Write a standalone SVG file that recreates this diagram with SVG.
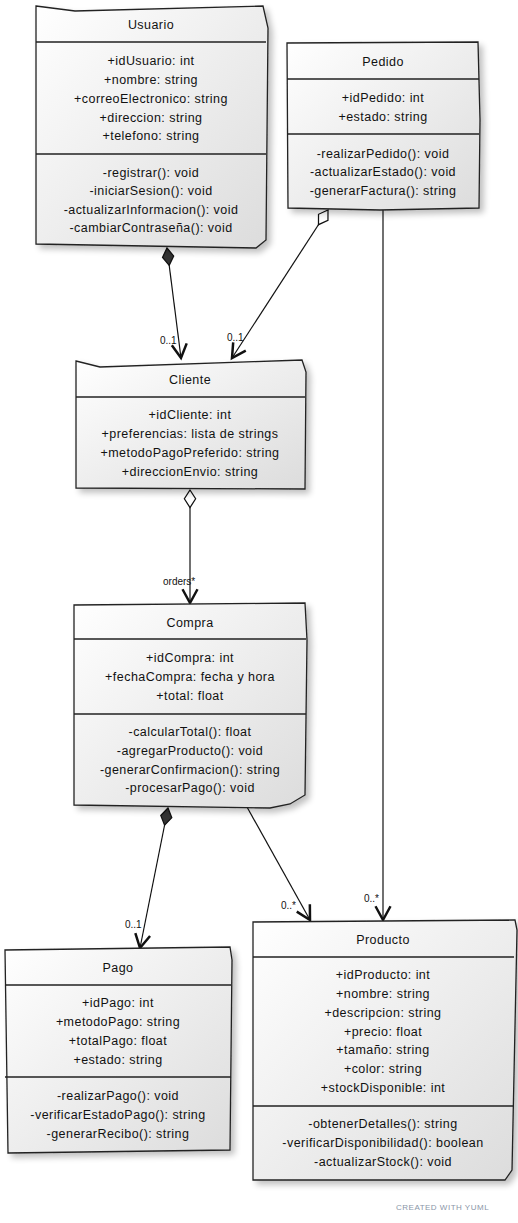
<svg xmlns="http://www.w3.org/2000/svg" width="518" height="1223" viewBox="0 0 518 1223">
<style>
.box{fill:url(#g);stroke:#222;stroke-width:1.3;filter:url(#sh)}
.div{stroke:#222;stroke-width:1.3;fill:none}
.t{font-family:"Liberation Sans",Arial,sans-serif;font-size:12.5px;letter-spacing:0.45px;fill:#111;text-anchor:middle}
.lbl{font-family:"Liberation Sans",Arial,sans-serif;font-size:10px;fill:#111}
.ln{stroke:#111;stroke-width:1.2;fill:none}
</style>
<defs>
<linearGradient id="g" x1="0" y1="0" x2="1" y2="1">
<stop offset="0" stop-color="#ffffff"/>
<stop offset="1" stop-color="#dcdcdc"/>
</linearGradient>
<filter id="sh" x="-10%" y="-10%" width="130%" height="130%">
<feGaussianBlur in="SourceAlpha" stdDeviation="3"/>
<feOffset dx="4" dy="4" result="b"/>
<feComponentTransfer><feFuncA type="linear" slope="0.25"/></feComponentTransfer>
<feMerge><feMergeNode/><feMergeNode in="SourceGraphic"/></feMerge>
</filter>
<marker id="arr" markerUnits="userSpaceOnUse" markerWidth="20" markerHeight="20" refX="0" refY="0" viewBox="-12 -8 14 16" orient="auto">
<path d="M-11,-6 L0,0 L-11,6" fill="none" stroke="#111" stroke-width="2"/>
</marker>
<marker id="dfill" markerUnits="userSpaceOnUse" markerWidth="20" markerHeight="20" refX="0" refY="0" viewBox="-1 -6 16 12" orient="auto">
<path d="M0,0 L7,-4.5 L14,0 L7,4.5 Z" fill="#333" stroke="#111" stroke-width="1"/>
</marker>
<marker id="dopen" markerUnits="userSpaceOnUse" markerWidth="20" markerHeight="20" refX="0" refY="0" viewBox="-1 -6 16 12" orient="auto">
<path d="M0,0 L7,-4.5 L14,0 L7,4.5 Z" fill="#fff" stroke="#111" stroke-width="1"/>
</marker>
</defs>
<rect width="518" height="1223" fill="#fff"/>

<g id="connectors">
<path class="ln" d="M167,248 L181,358" marker-start="url(#dfill)" marker-end="url(#arr)"/>
<text class="lbl" x="160" y="344">0..1</text>
<path class="ln" d="M328,210 L232,358" marker-start="url(#dopen)" marker-end="url(#arr)"/>
<text class="lbl" x="227" y="341">0..1</text>
<path class="ln" d="M383,210 L383,920" marker-end="url(#arr)"/>
<text class="lbl" x="364" y="902">0..*</text>
<path class="ln" d="M190,490 L190,603" marker-start="url(#dopen)" marker-end="url(#arr)"/>
<text class="lbl" x="163" y="585">orders*</text>
<path class="ln" d="M168,808 L140,948" marker-start="url(#dfill)" marker-end="url(#arr)"/>
<text class="lbl" x="125" y="928">0..1</text>
<path class="ln" d="M247,807 L310,920" marker-end="url(#arr)"/>
<text class="lbl" x="281" y="909">0..*</text>
</g>

<g id="Usuario">
<path class="box" d="M36,6 L75,11 L263,6 L268,28 L266,240 L256,248 L36,244 Z"/>
<path class="div" d="M36,42 L266,42 M36,154 L266,154"/>
<text class="t" x="151" y="29">Usuario</text>
<text class="t" x="151" y="65">+idUsuario: int</text>
<text class="t" x="151" y="84">+nombre: string</text>
<text class="t" x="151" y="103">+correoElectronico: string</text>
<text class="t" x="151" y="122">+direccion: string</text>
<text class="t" x="151" y="140">+telefono: string</text>
<text class="t" x="151" y="177">-registrar(): void</text>
<text class="t" x="151" y="195">-iniciarSesion(): void</text>
<text class="t" x="151" y="214">-actualizarInformacion(): void</text>
<text class="t" x="151" y="232">-cambiarContraseña(): void</text>
</g>

<g id="Pedido">
<path class="box" d="M287,43 L478,42 L480,120 L479,208 L380,210 L288,208 Z"/>
<path class="div" d="M287,79 L479,79 M287,134 L479,134"/>
<text class="t" x="383" y="66">Pedido</text>
<text class="t" x="383" y="102">+idPedido: int</text>
<text class="t" x="383" y="121">+estado: string</text>
<text class="t" x="383" y="158">-realizarPedido(): void</text>
<text class="t" x="383" y="176">-actualizarEstado(): void</text>
<text class="t" x="383" y="195">-generarFactura(): string</text>
</g>

<g id="Cliente">
<path class="box" d="M76,361 L100,367 L302,360 L306,372 L305,489 L76,488 Z"/>
<path class="div" d="M76,397 L305,397"/>
<text class="t" x="190" y="384">Cliente</text>
<text class="t" x="190" y="419">+idCliente: int</text>
<text class="t" x="190" y="438">+preferencias: lista de strings</text>
<text class="t" x="190" y="457">+metodoPagoPreferido: string</text>
<text class="t" x="190" y="476">+direccionEnvio: string</text>
</g>

<g id="Compra">
<path class="box" d="M74,605 L305,603 L307,640 L305,795 L290,804 L270,808 L74,805 Z"/>
<path class="div" d="M74,639 L306,639 M74,714 L306,714"/>
<text class="t" x="190" y="627">Compra</text>
<text class="t" x="190" y="662">+idCompra: int</text>
<text class="t" x="190" y="681">+fechaCompra: fecha y hora</text>
<text class="t" x="190" y="700">+total: float</text>
<text class="t" x="190" y="736">-calcularTotal(): float</text>
<text class="t" x="190" y="755">-agregarProducto(): void</text>
<text class="t" x="190" y="774">-generarConfirmacion(): string</text>
<text class="t" x="190" y="792">-procesarPago(): void</text>
</g>

<g id="Pago">
<path class="box" d="M5,950 L230,947 L232,960 L230,1150 L8,1153 Z"/>
<path class="div" d="M5,985 L231,985 M5,1077 L231,1077"/>
<text class="t" x="118" y="972">Pago</text>
<text class="t" x="118" y="1007">+idPago: int</text>
<text class="t" x="118" y="1026">+metodoPago: string</text>
<text class="t" x="118" y="1045">+totalPago: float</text>
<text class="t" x="118" y="1064">+estado: string</text>
<text class="t" x="118" y="1100">-realizarPago(): void</text>
<text class="t" x="118" y="1119">-verificarEstadoPago(): string</text>
<text class="t" x="118" y="1138">-generarRecibo(): string</text>
</g>

<g id="Producto">
<path class="box" d="M253,922 L515,920 L517,930 L512,1170 L505,1180 L253,1180 Z"/>
<path class="div" d="M253,957 L514,957 M253,1106 L513,1106"/>
<text class="t" x="383" y="944">Producto</text>
<text class="t" x="383" y="979">+idProducto: int</text>
<text class="t" x="383" y="998">+nombre: string</text>
<text class="t" x="383" y="1017">+descripcion: string</text>
<text class="t" x="383" y="1036">+precio: float</text>
<text class="t" x="383" y="1054">+tamaño: string</text>
<text class="t" x="383" y="1073">+color: string</text>
<text class="t" x="383" y="1092">+stockDisponible: int</text>
<text class="t" x="383" y="1128">-obtenerDetalles(): string</text>
<text class="t" x="383" y="1147">-verificarDisponibilidad(): boolean</text>
<text class="t" x="383" y="1166">-actualizarStock(): void</text>
</g>

<text x="396" y="1210" font-family="'Liberation Sans',Arial,sans-serif" font-size="8" fill="#8a96a8" letter-spacing="0.5">CREATED WITH YUML</text>
</svg>
